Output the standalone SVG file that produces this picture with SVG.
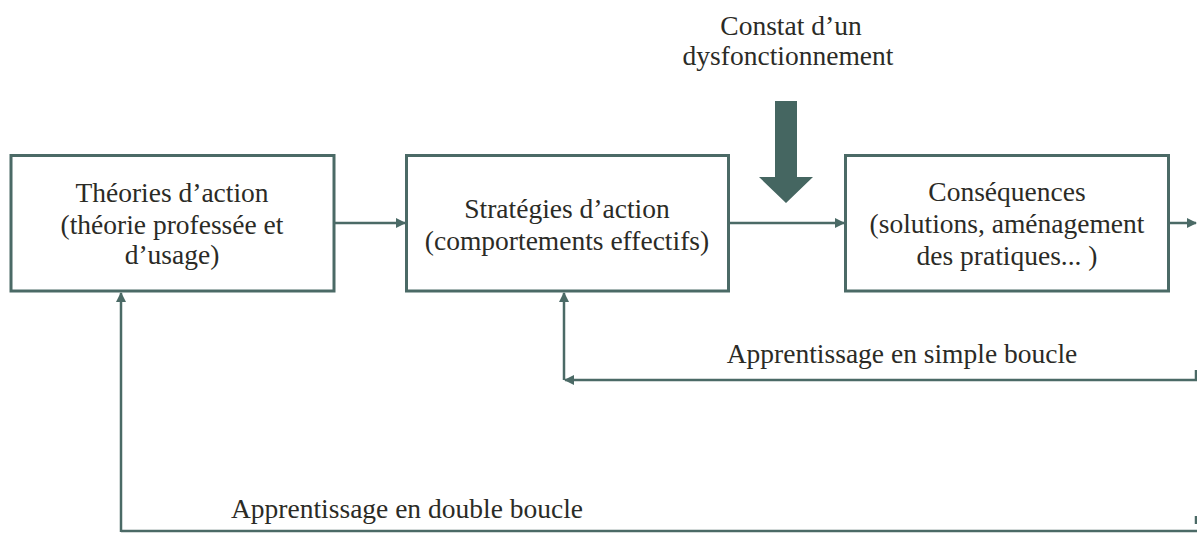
<svg xmlns="http://www.w3.org/2000/svg" width="1197" height="533" viewBox="0 0 1197 533">
<style>
.box{fill:#fff;stroke:#4b6a66;stroke-width:3}
.ln{fill:none;stroke:#4b6a66;stroke-width:2.5}
text{font-family:"Liberation Serif","Times New Roman",serif;font-size:27.5px;fill:#2b2b26;text-anchor:middle}
</style>
<defs>
<marker id="ah" viewBox="0 0 10 10" refX="9" refY="5" markerWidth="4" markerHeight="4" orient="auto" markerUnits="strokeWidth">
<path d="M0,0 L10,5 L0,10 z" fill="#4b6a66"/>
</marker>
</defs>
<rect width="1197" height="533" fill="#fff"/>
<g id="constat">
<text x="791" y="35">Constat d’un</text>
<text x="788" y="65">dysfonctionnement</text>
<path d="M775,101 H797 V177 H813 L786,203 L759,177 H775 Z" fill="#456661"/>
</g>
<g id="theories">
<rect class="box" x="11" y="155.5" width="323" height="135.5"/>
<text x="172" y="202">Théories d’action</text>
<text x="172" y="234">(théorie professée et</text>
<text x="172" y="264">d’usage)</text>
</g>
<g id="strategies">
<rect class="box" x="406.5" y="155.5" width="322" height="135.5"/>
<text x="567" y="218">Stratégies d’action</text>
<text x="567" y="250">(comportements effectifs)</text>
</g>
<g id="consequences">
<rect class="box" x="845.5" y="155.5" width="323" height="135.5"/>
<text x="1007" y="201">Conséquences</text>
<text x="1007" y="233">(solutions, aménagement</text>
<text x="1007" y="265">des pratiques... )</text>
</g>
<g id="connectors">
<line class="ln" x1="334" y1="223" x2="405" y2="223" marker-end="url(#ah)"/>
<line class="ln" x1="729" y1="223" x2="844" y2="223" marker-end="url(#ah)"/>
<line class="ln" x1="1170" y1="223" x2="1196" y2="223" marker-end="url(#ah)"/>
<line class="ln" x1="1197" y1="380" x2="565" y2="380" marker-end="url(#ah)"/>
<line class="ln" x1="564" y1="380" x2="564" y2="293" marker-end="url(#ah)"/>
<line class="ln" x1="1197" y1="531" x2="121" y2="531"/>
<line class="ln" x1="121" y1="532" x2="121" y2="293" marker-end="url(#ah)"/>
<line class="ln" x1="1196" y1="370" x2="1196" y2="380"/>
<line class="ln" x1="1196" y1="516" x2="1196" y2="524"/>
<text x="902" y="363">Apprentissage en simple boucle</text>
<text x="407" y="518">Apprentissage en double boucle</text>
</g>
</svg>
